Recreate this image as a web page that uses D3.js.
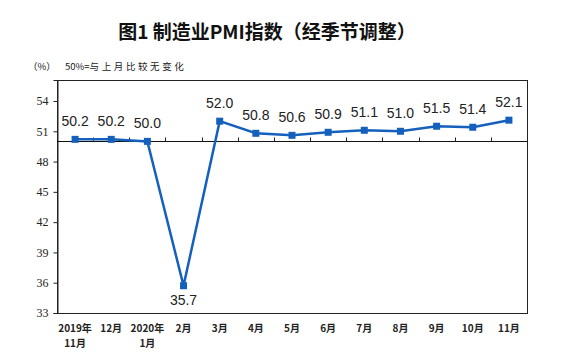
<!DOCTYPE html>
<html>
<head>
<meta charset="utf-8">
<script src="https://cdn.jsdelivr.net/npm/d3@7"></script>
<style>
  body { margin: 0; background: #fff; }
</style>
</head>
<body>
<div id="chart"></div>
<script>
// data
const months = ["2019年|11月", "12月", "2020年|1月", "2月", "3月", "4月", "5月", "6月", "7月", "8月", "9月", "10月", "11月"];
const pmi = [50.2, 50.2, 50.0, 35.7, 52.0, 50.8, 50.6, 50.9, 51.1, 51.0, 51.5, 51.4, 52.1];
const yTicks = [33, 36, 39, 42, 45, 48, 51, 54];

let width = 561, height = 363;
let plotLeft = 57, plotRight = 527, plotTop = 80, plotBottom = 313;
let lineColor = "#1560bd";

let svg = d3.select("#chart").append("svg")
    .attr("width", width)
    .attr("height", height);

let x = d3.scaleBand().domain(months).range([plotLeft, plotRight]);
let y = d3.scaleLinear().domain([33, 56.08]).range([plotBottom, plotTop]);

//title
svg.append("text")
    .attr("x", 267).attr("y", 39)
    .attr("text-anchor", "middle")
    .attr("font-family", "Noto Sans CJK SC")
    .attr("font-weight", "bold")
    .attr("font-size", 19)
    .attr("fill", "#111")
    .text("图1 制造业PMI指数（经季节调整）");

//unit note
svg.append("text")
    .attr("x", 28).attr("y", 70)
    .attr("font-family", "Noto Sans CJK SC")
    .attr("font-size", 9.5)
    .attr("fill", "#222")
    .text("（%）");
let note = svg.append("text")
    .attr("x", 65).attr("y", 70)
    .attr("font-family", "Noto Sans CJK SC")
    .attr("font-size", 9.5)
    .attr("fill", "#222");
note.append("tspan").text("50%=");
note.append("tspan").attr("letter-spacing", 2.6).text("与上月比较无变化");

//frame
svg.append("rect")
    .attr("x", plotLeft + .5).attr("y", plotTop + .5)
    .attr("width", plotRight - plotLeft).attr("height", plotBottom - plotTop)
    .attr("fill", "none")
    .attr("stroke", "#222")
    .attr("stroke-width", 1);

//y axis
let yAxis = svg.append("g")
    .attr("transform", "translate(" + (plotLeft + .5) + ",0)")
    .call(d3.axisLeft(y).tickValues(yTicks).tickSize(4).tickPadding(5));
yAxis.select(".domain").attr("stroke", "#222");
yAxis.selectAll(".tick line").attr("stroke", "#222");
yAxis.selectAll("text")
    .attr("font-family", "Liberation Serif")
    .attr("font-size", 12)
    .attr("fill", "#222");

//x axis on the 50 line, ticks between months pointing up
let y50 = Math.round(y(50)) + .5;
svg.append("line")
    .attr("x1", plotLeft).attr("x2", plotRight)
    .attr("y1", y50).attr("y2", y50)
    .attr("stroke", "#111").attr("stroke-width", 1);
svg.selectAll("line.xtick")
    .data(months.slice(1))
    .enter().append("line")
    .attr("class", "xtick")
    .attr("x1", d => Math.round(x(d)) + .5)
    .attr("x2", d => Math.round(x(d)) + .5)
    .attr("y1", y50).attr("y2", y50 - 4)
    .attr("stroke", "#222");

//x labels below the frame
let xl = svg.append("g");
months.forEach(function (m) {
    let parts = m.split("|");
    let t = xl.append("text")
        .attr("x", x(m) + x.bandwidth() / 2)
        .attr("y", 332)
        .attr("text-anchor", "middle")
        .attr("font-family", "Noto Sans CJK SC")
        .attr("font-weight", "bold")
        .attr("font-size", 10)
        .attr("fill", "#222");
    parts.forEach(function (p, i) {
        t.append("tspan")
            .attr("x", x(m) + x.bandwidth() / 2)
            .attr("dy", i == 0 ? 0 : 15)
            .text(p);
    });
});

//line
let cx = (d, i) => x(months[i]) + x.bandwidth() / 2;
svg.append("path")
    .datum(pmi)
    .attr("d", d3.line().x(cx).y(d => y(d)))
    .attr("fill", "none")
    .attr("stroke", lineColor)
    .attr("stroke-width", 2.5);

svg.selectAll("rect.pt")
    .data(pmi)
    .enter().append("rect")
    .attr("class", "pt")
    .attr("x", (d, i) => cx(d, i) - 3.5)
    .attr("y", d => y(d) - 3.5)
    .attr("width", 7).attr("height", 7)
    .attr("fill", lineColor);

//value labels
svg.selectAll("text.val")
    .data(pmi)
    .enter().append("text")
    .attr("class", "val")
    .attr("x", cx)
    .attr("y", d => d < 40 ? y(d) + 19 : y(d) - 13)
    .attr("text-anchor", "middle")
    .attr("font-family", "Liberation Sans")
    .attr("font-size", 14)
    .attr("fill", "#222")
    .text(d => d.toFixed(1));
</script>
</body>
</html>
